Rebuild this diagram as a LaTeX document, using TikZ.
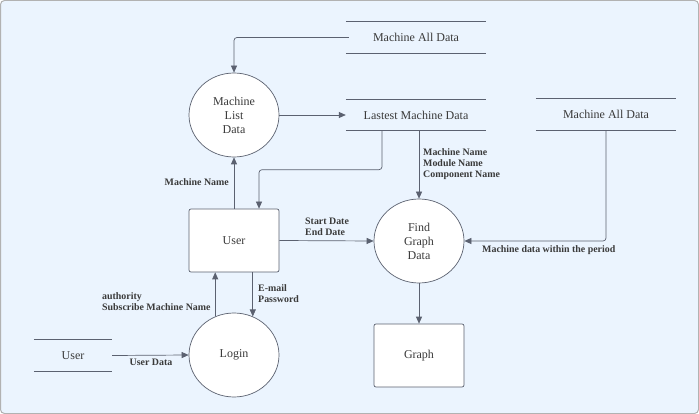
\documentclass[tikz,border=0pt]{standalone}
\usepackage{fontspec}
\setmainfont{Liberation Serif}
\usetikzlibrary{arrows.meta,shapes.geometric}
\definecolor{bgblue}{HTML}{EBF4FE}
\definecolor{lnclr}{HTML}{5B6170}
\definecolor{txtclr}{HTML}{3A3A3A}
\begin{document}
\begin{tikzpicture}[x=1pt,y=-1pt,
  proc/.style={ellipse,draw=lnclr,line width=0.7pt,fill=white,minimum width=90pt,minimum height=84pt,inner sep=0pt,align=center,text=txtclr,font=\fontsize{12}{14}\selectfont},
  ent/.style={rectangle,rounded corners=2pt,draw=lnclr,line width=0.7pt,fill=white,minimum width=90pt,minimum height=63pt,text=txtclr,font=\fontsize{12}{14}\selectfont},
  store/.style={minimum width=140pt,minimum height=31pt,inner sep=0pt,text=txtclr,font=\fontsize{12}{14}\selectfont},
  flow/.style={draw=lnclr,line width=0.7pt,rounded corners=3pt,-{Triangle[length=7pt,width=6pt]}},
  lbl/.style={font=\fontsize{9.9}{11}\selectfont\bfseries,text=txtclr,align=left,inner sep=0pt}]
\useasboundingbox (0,0) rectangle (699,414);
\draw[draw=gray!60,fill=bgblue,line width=1pt,rounded corners=4pt] (0.5,0.5) rectangle (698.5,413.5);
% processes and entities
\node[proc] (mld) at (234,115) {Machine\\List\\Data};
\node[proc] (fgd) at (419,241) {Find\\Graph\\Data};
\node[proc] (login) at (234,355) {Login};
\node[ent] (user) at (234,240.5) {User};
\node[ent] (graph) at (419,355.5) {Graph};
% data stores
\node[store] (mad) at (416,37.5) {Machine All Data};
\node[store] (lmd) at (416,115) {Lastest Machine Data};
\node[store] (madb) at (606,114.5) {Machine All Data};
\node[store,minimum width=78pt] (ust) at (73,355.5) {User};
\foreach \s in {mad,lmd,madb,ust}
  \draw[lnclr,line width=0.7pt] (\s.north west) -- (\s.north east) (\s.south west) -- (\s.south east);
% flows
\draw[flow] ([xshift=3pt]mad.west) -| (mld.north);
\draw[flow] (mld.east) -- (lmd.west);
\draw[flow] ([xshift=-34pt]lmd.south) -- ++(0,39) -| ([xshift=25pt]user.north);
\draw[flow] (lmd.south -| fgd.north) -- (fgd.north);
\draw[flow] (madb.south) |- (fgd.east);
\draw[flow] (user.north) -- (mld.south);
\draw[flow] (user.east) -- (fgd.west);
\draw[flow] (login.64 |- user.south) -- (login.64);
\draw[flow] (login.116) -- (login.116 |- user.south);
\draw[flow] (ust.east) -- (login.west);
\draw[flow] (fgd.south) -- (graph.north);
% labels
\node[lbl,anchor=east] (lmn) at (229,182) {Machine Name};
\node[lbl,anchor=west] (lmmc) at (423,164) {Machine Name\\Module Name\\Component Name};
\node[lbl,anchor=west] (lsed) at (305,226.5) {Start Date\\End Date};
\node[lbl,anchor=west] (lmdp) at (482,250) {Machine data within the period};
\node[lbl,anchor=west] (lemp) at (258,293.5) {E-mail\\Password};
\node[lbl,anchor=west] (lasm) at (102,301.5) {authority\\Subscribe Machine Name};
\node[lbl] (lud) at (151,362) {User Data};
\end{tikzpicture}
\end{document}
